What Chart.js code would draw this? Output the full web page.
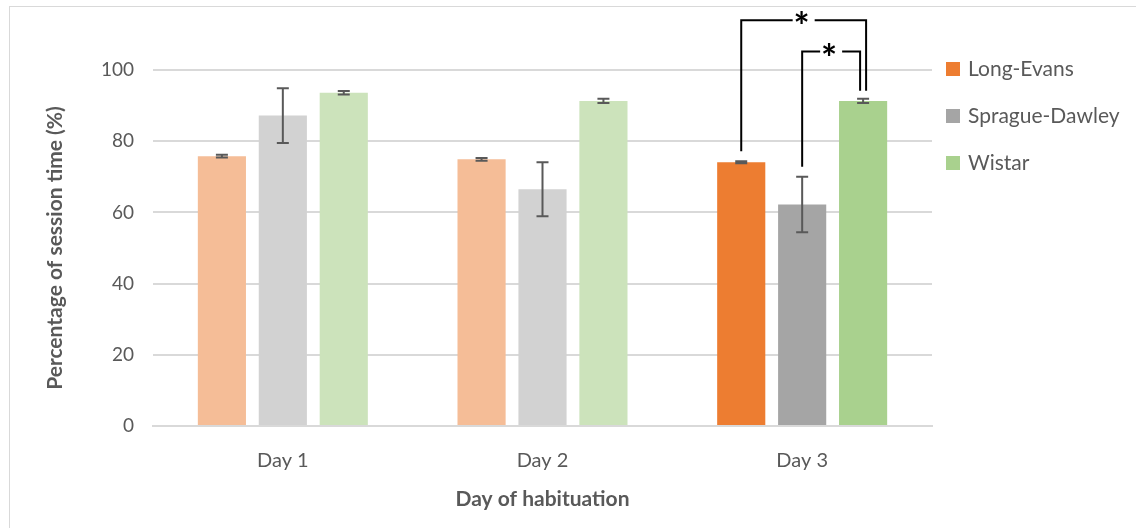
<!DOCTYPE html>
<html>
<head>
<meta charset="utf-8">
<script src="https://cdn.jsdelivr.net/npm/chart.js@4"></script>
<style>
  body { margin: 0; background: #fff; font-family: Lato, "Open Sans", sans-serif; }
  #wrap { position: relative; width: 1136px; height: 528px; overflow: hidden; }
  #frame { position: absolute; left: 9px; top: 6px; width: 1200px; height: 600px; border: 1px solid #d9d9d9; }
  canvas { position: absolute; left: 0; top: 0; }
  #legend { position: absolute; left: 946px; top: 55px; }
  .item { height: 47px; display: flex; align-items: flex-start; color: #595959; font-size: 21px; }
  .item span.box { width: 14px; height: 14px; margin: 7px 8px 0 0; }
</style>
</head>
<body>
<div id="wrap">
  <div id="frame"></div>
  <canvas id="chart" width="1136" height="528"></canvas>
  <div id="legend"></div>
</div>
<script>
// data
const days = ["Day 1", "Day 2", "Day 3"];
const strains = ["Long-Evans", "Sprague-Dawley", "Wistar"];
const longEvans = [75.8, 74.9, 74.1];
const longEvansErr = [0.4, 0.4, 0.3];
const spragueDawley = [87.2, 66.5, 62.2];
const spragueDawleyErr = [7.7, 7.6, 7.8];
const wistar = [93.6, 91.3, 91.3];
const wistarErr = [0.5, 0.6, 0.6];
const yTicks = [0, 20, 40, 60, 80, 100];
// significance brackets on Day 3: dataset index pairs and bracket height (%)
const sigPairs = [
    { day: 2, from: 0, to: 2, level: 114, label: "*" },
    { day: 2, from: 1, to: 2, level: 105.2, label: "*" }
];

const fullColors = ["#ED7D31", "#A5A5A5", "#A9D18E"];
const lightColors = ["#F5BD97", "#D2D2D2", "#CCE3BB"];
const values = [longEvans, spragueDawley, wistar];
const errors = [longEvansErr, spragueDawleyErr, wistarErr];

// only Day 3 is shown in full colour
function barColors(i) {
    return days.map((d, j) => j === days.length - 1 ? fullColors[i] : lightColors[i]);
}

const errorBars = {
    id: "errorBars",
    afterDatasetsDraw(chart) {
        const ctx = chart.ctx;
        const y = chart.scales.y;
        ctx.save();
        ctx.strokeStyle = "#595959";
        ctx.lineWidth = 2;
        chart.data.datasets.forEach((ds, i) => {
            chart.getDatasetMeta(i).data.forEach((bar, j) => {
                const err = errors[i][j];
                const top = y.getPixelForValue(ds.data[j] + err);
                const bot = y.getPixelForValue(ds.data[j] - err);
                ctx.beginPath();
                ctx.moveTo(bar.x, top); ctx.lineTo(bar.x, bot);
                ctx.moveTo(bar.x - 6, top); ctx.lineTo(bar.x + 6, top);
                ctx.moveTo(bar.x - 6, bot); ctx.lineTo(bar.x + 6, bot);
                ctx.stroke();
            });
        });
        ctx.restore();
    }
};

const brackets = {
    id: "brackets",
    afterDraw(chart) {
        const ctx = chart.ctx;
        const y = chart.scales.y;
        ctx.save();
        ctx.strokeStyle = "#000";
        ctx.lineWidth = 2;
        sigPairs.forEach((p, k) => {
            const a = chart.getDatasetMeta(p.from).data[p.day];
            const b = chart.getDatasetMeta(p.to).data[p.day];
            const x1 = a.x;
            const x2 = b.x + (k === 0 ? 3 : -3);
            const yTop = y.getPixelForValue(p.level);
            const y1 = y.getPixelForValue(values[p.from][p.day] + errors[p.from][p.day]) - 10;
            const y2 = y.getPixelForValue(values[p.to][p.day] + errors[p.to][p.day]) - 8;
            const mid = (x1 + x2) / 2;
            ctx.beginPath();
            ctx.moveTo(x1, y1); ctx.lineTo(x1, yTop); ctx.lineTo(mid - 11, yTop);
            ctx.moveTo(mid + 11, yTop); ctx.lineTo(x2, yTop); ctx.lineTo(x2, y2);
            ctx.stroke();
            ctx.fillStyle = "#000";
            ctx.font = "bold 38px Lato, sans-serif";
            ctx.textAlign = "center";
            ctx.textBaseline = "middle";
            ctx.fillText(p.label, mid - 2, yTop + 8);
        });
        ctx.restore();
    }
};

new Chart(document.getElementById("chart").getContext("2d"), {
    type: "bar",
    data: {
        labels: days,
        datasets: strains.map((s, i) => ({
            label: s,
            data: values[i],
            backgroundColor: barColors(i),
            barPercentage: 0.79,
            categoryPercentage: 0.704
        }))
    },
    options: {
        responsive: false,
        animation: false,
        layout: { padding: { top: 70, right: 204, left: 0, bottom: 0 } },
        plugins: { legend: { display: false }, tooltip: { enabled: false } },
        scales: {
            x: {
                afterFit(s) { s.height = 102; },
                grid: { display: false },
                border: { color: "#d9d9d9", width: 2 },
                ticks: { color: "#595959", font: { family: "Lato", size: 20 }, padding: 15 },
                title: {
                    display: true, text: "Day of habituation", color: "#595959",
                    font: { family: "Lato", size: 21, weight: "bold" },
                    padding: { top: 10, bottom: 16 }
                }
            },
            y: {
                min: 0, max: 100,
                afterFit(s) { s.width = 153; },
                afterBuildTicks(s) { s.ticks = yTicks.map(v => ({ value: v })); },
                grid: { color: "#d9d9d9", lineWidth: 2, drawTicks: false },
                border: { display: false },
                ticks: { color: "#595959", font: { family: "Lato", size: 19 }, padding: 19 },
                title: {
                    display: true, text: "Percentage of session time (%)", color: "#595959",
                    font: { family: "Lato", size: 21, weight: "bold" },
                    padding: { top: 43, bottom: 0 }
                }
            }
        }
    },
    plugins: [errorBars, brackets]
});

// legend
const legend = document.getElementById("legend");
strains.forEach((s, i) => {
    const row = document.createElement("div");
    row.className = "item";
    row.innerHTML = '<span class="box" style="background:' + fullColors[i] + '"></span>' + s;
    legend.appendChild(row);
});
</script>
</body>
</html>
